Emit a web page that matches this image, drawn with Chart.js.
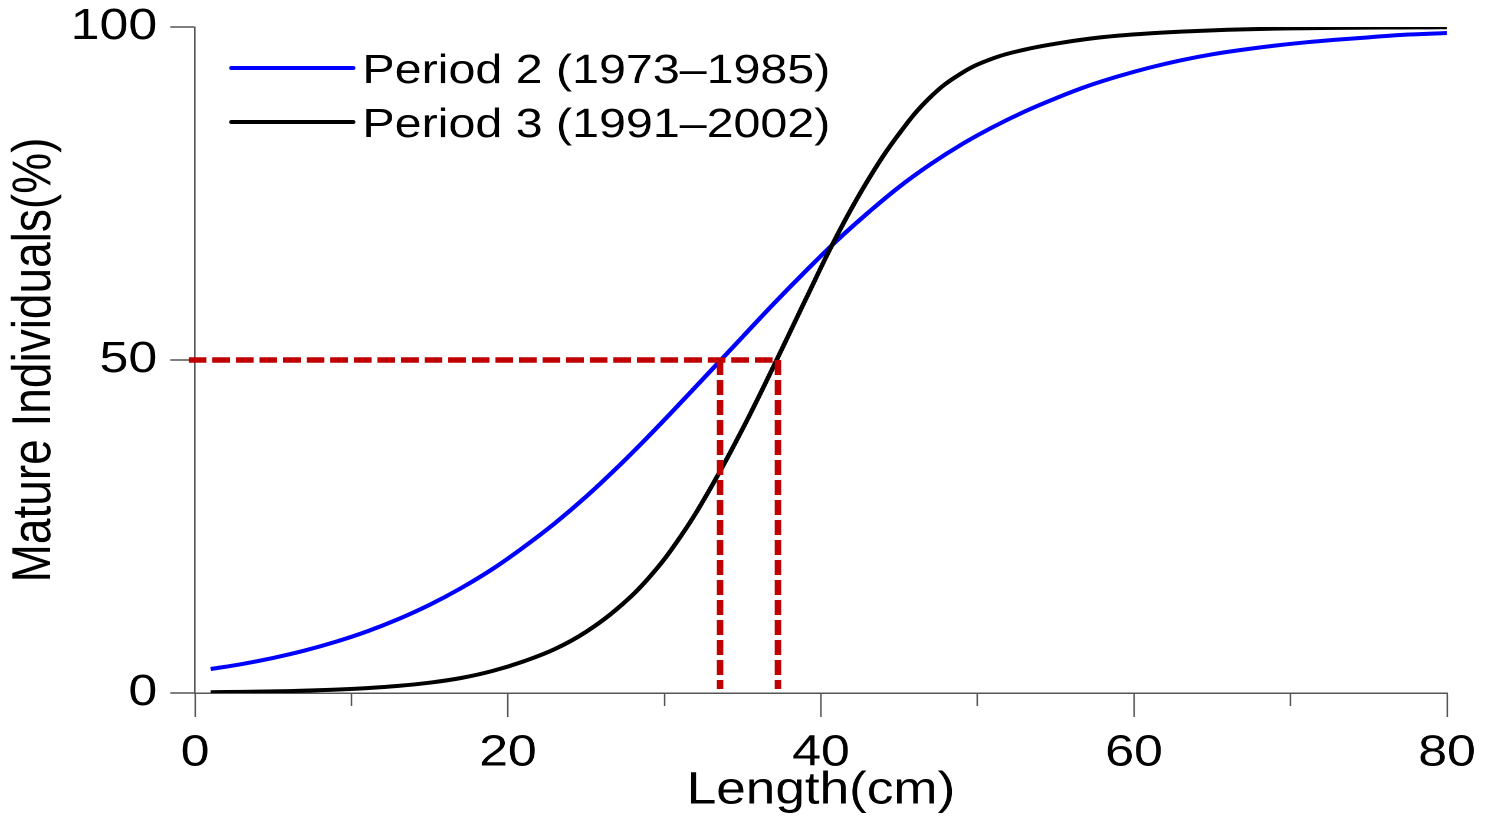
<!DOCTYPE html>
<html>
<head>
<meta charset="utf-8">
<script src="https://cdn.jsdelivr.net/npm/chart.js@4.4.1/dist/chart.umd.min.js"></script>
<style>
  html, body { margin: 0; padding: 0; background: #fff; overflow: hidden; }
  /* the source figure is stretched sideways, so draw narrower and stretch */
  #wrap { width: 1259px; height: 832px; transform: scaleX(1.1795); transform-origin: 0 0; }
</style>
</head>
<body>
<div id="wrap"><canvas id="maturity" width="1259" height="832"></canvas></div>
<script>
// lengths (cm) where the curves were read
const lengths = [1, 3, 5, 7, 9, 11, 13, 15, 17, 19, 21, 23, 25, 27, 29, 31, 33, 35, 37, 39,
                 41, 43, 45, 47, 49, 51, 53, 55, 57, 59, 61, 63, 65, 67, 69, 71, 73, 75, 77, 79, 80];
// % mature
const period2 = [3.6, 4.35, 5.27, 6.37, 7.69, 9.25, 11.1, 13.25, 15.75, 18.6, 21.9, 25.5, 29.5, 33.9, 38.6, 43.5, 48.5, 53.5, 58.5, 63.3,
                 67.9, 72.1, 76.0, 79.4, 82.4, 85.0, 87.3, 89.3, 91.1, 92.6, 93.9, 95.0, 95.9, 96.6, 97.2, 97.7, 98.1, 98.45, 98.8, 99.0, 99.1];
const period3 = [0.12, 0.17, 0.24, 0.35, 0.51, 0.74, 1.07, 1.55, 2.25, 3.3, 4.75, 6.6, 9.2, 12.7, 17.3, 23.4, 31.0, 39.7, 49.2, 59.0,
                 68.6, 77.0, 84.0, 89.5, 93.1, 95.3, 96.6, 97.5, 98.2, 98.7, 99.05, 99.3, 99.5, 99.65, 99.75, 99.82, 99.87, 99.9, 99.93, 99.95, 99.96];
const seriesLabels = ['Period 2 (1973\u20131985)', 'Period 3 (1991\u20132002)'];

// L50 guide lines
const matureLevel = 50;
const l50Lengths = [33.55, 37.25];
const guideStart = -0.4;
const guideBottom = 0.6;

const xTicks = [0, 20, 40, 60, 80];
const yTicks = [0, 50, 100];

const FONT = '"Liberation Sans", Arial, Helvetica, sans-serif';
const AXIS_COLOR = '#555';
const GUIDE_COLOR = '#c00000';

const toPoints = (xs, ys) => xs.map((x, i) => ({ x: x, y: ys[i] }));

const guideStyle = {
    borderColor: GUIDE_COLOR,
    borderWidth: 5.5,
    borderDash: [15, 5],
    borderCapStyle: 'butt',
    pointRadius: 0,
    showLine: true,
    tension: 0,
    clip: false,
    order: 0,
    isGuide: true
};

const datasets = [
    Object.assign({ data: [{ x: guideStart, y: matureLevel }, { x: l50Lengths[1], y: matureLevel }] }, guideStyle),
    Object.assign({ data: [{ x: l50Lengths[0], y: matureLevel }, { x: l50Lengths[0], y: guideBottom }] }, guideStyle),
    Object.assign({ data: [{ x: l50Lengths[1], y: matureLevel }, { x: l50Lengths[1], y: guideBottom }] }, guideStyle),
    {
        label: seriesLabels[0],
        data: toPoints(lengths, period2),
        borderColor: '#0000ff',
        borderWidth: 4,
        showLine: true,
        pointRadius: 0,
        tension: 0.4,
        order: 2
    },
    {
        label: seriesLabels[1],
        data: toPoints(lengths, period3),
        borderColor: '#000000',
        borderWidth: 4,
        showLine: true,
        pointRadius: 0,
        tension: 0.4,
        order: 1
    }
];

// legend sits inside the plot, top left
const insideLegend = {
    id: 'insideLegend',
    afterDraw(chart) {
        const ctx = chart.ctx;
        const area = chart.chartArea;
        const items = chart.data.datasets.filter(d => !d.isGuide);
        ctx.save();
        ctx.font = '41px ' + FONT;
        ctx.textBaseline = 'alphabetic';
        ctx.fillStyle = '#000';
        items.forEach((d, i) => {
            const y = area.top + 41 + i * 54;
            ctx.beginPath();
            ctx.lineWidth = 4;
            ctx.lineCap = 'round';
            ctx.strokeStyle = d.borderColor;
            ctx.moveTo(area.left + 31, y);
            ctx.lineTo(area.left + 134, y);
            ctx.stroke();
            ctx.fillText(d.label, area.left + 142, y + 15);
        });
        ctx.restore();
    }
};

new Chart(document.getElementById('maturity'), {
    type: 'scatter',
    data: { datasets: datasets },
    plugins: [insideLegend],
    options: {
        responsive: false,
        devicePixelRatio: 2,
        animation: false,
        layout: { padding: { top: 27, right: 32.2, left: 0, bottom: 0 } },
        plugins: {
            legend: { display: false },
            tooltip: { enabled: false }
        },
        scales: {
            x: {
                type: 'linear',
                min: 0,
                max: 80,
                afterFit: (s) => {
                    s.height = 139;
                    s.paddingLeft = 0;
                    s.paddingRight = 0;
                },
                afterBuildTicks: (s) => {
                    s.ticks = [0, 10, 20, 30, 40, 50, 60, 70, 80].map(v => ({ value: v }));
                },
                ticks: {
                    autoSkip: false,
                    maxRotation: 0,
                    padding: 10,
                    color: '#000',
                    font: { family: FONT, size: 44 },
                    callback: (v) => xTicks.includes(v) ? String(v) : ''
                },
                grid: {
                    drawOnChartArea: false,
                    tickLength: 24,
                    tickColor: AXIS_COLOR,
                    tickWidth: 1.3,
                    tickBorderDash: (c) => (c.tick && xTicks.includes(c.tick.value)) ? [] : [12, 100]
                },
                border: { display: true, color: AXIS_COLOR, width: 1.5 },
                title: {
                    display: true,
                    text: 'Length(cm)',
                    color: '#000',
                    font: { family: FONT, size: 45 },
                    padding: { top: 14, bottom: 14 }
                }
            },
            y: {
                type: 'linear',
                min: 0,
                max: 100,
                afterFit: (s) => {
                    s.width = 165.3;
                    s.paddingTop = 0;
                    s.paddingBottom = 0;
                },
                afterBuildTicks: (s) => { s.ticks = yTicks.map(v => ({ value: v })); },
                ticks: {
                    padding: 11,
                    color: '#000',
                    font: { family: FONT, size: 44 }
                },
                grid: {
                    drawOnChartArea: false,
                    tickLength: 21,
                    tickColor: AXIS_COLOR,
                    tickWidth: 1.5
                },
                border: { display: true, color: AXIS_COLOR, width: 1.3 },
                title: {
                    display: true,
                    text: 'Mature Individuals(%)',
                    color: '#000',
                    font: { family: FONT, size: 46 },
                    padding: { top: 2, bottom: 0 }
                }
            }
        }
    }
});
</script>
</body>
</html>
